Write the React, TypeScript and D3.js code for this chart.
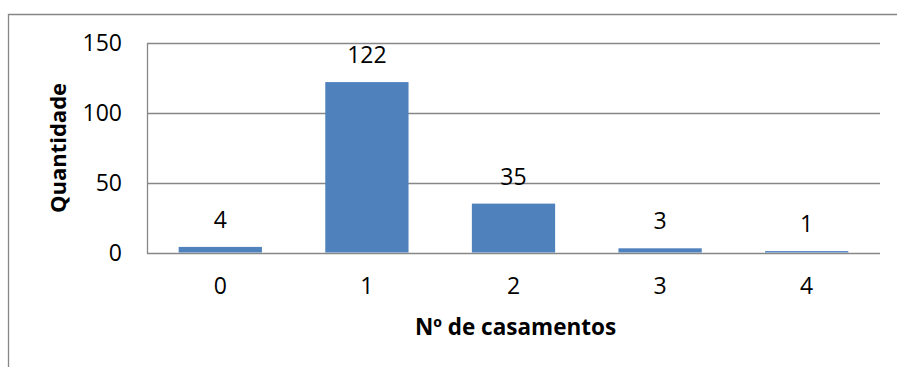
import React from "react";
import * as d3 from "d3";

// Number of marriages per person and how many people fall in each group
const categories = ["0", "1", "2", "3", "4"];
const counts = [4, 122, 35, 3, 1];
const yTicks = [0, 50, 100, 150];
const yTitle = "Quantidade";
const xTitle = "Nº de casamentos";

const W = 897;
const H = 367;
const plot = { left: 147, right: 880, top: 43, bottom: 252.5 };
const FONT = "'Open Sans', 'Noto Sans', sans-serif";
const BAR = "#4F81BD";
const GRID = "#878787";

export default function App() {
  const x = d3
    .scaleBand<string>()
    .domain(categories)
    .range([plot.left, plot.right])
    .paddingInner(0.432)
    .paddingOuter(0.216);
  const y = d3.scaleLinear().domain([0, 150]).range([plot.bottom, plot.top]);

  return (
    <svg
      width={W}
      height={H}
      style={{ position: "absolute", left: 0, top: 0, background: "#fff" }}
      fontFamily={FONT}
    >
      {/* outer chart frame (left and top edges visible) */}
      <path d={`M8.5,${H} V14.5 H${W}`} fill="none" stroke={GRID} strokeWidth={1.3} />

      {/* horizontal gridlines */}
      {yTicks.map((t) => (
        <line
          key={t}
          x1={plot.left}
          x2={plot.right}
          y1={Math.round(y(t)) + 0.5}
          y2={Math.round(y(t)) + 0.5}
          stroke={GRID}
          strokeWidth={1.3}
        />
      ))}
      {/* value axis line */}
      <line
        x1={plot.left + 0.5}
        x2={plot.left + 0.5}
        y1={y(150)}
        y2={Math.round(y(0)) + 1}
        stroke={GRID}
        strokeWidth={1.3}
      />

      {/* bars */}
      {counts.map((v, i) => (
        <rect
          key={categories[i]}
          x={x(categories[i])}
          y={y(v)}
          width={x.bandwidth()}
          height={y(0) - y(v)}
          fill={BAR}
        />
      ))}

      {/* value labels */}
      {counts.map((v, i) => (
        <text
          key={"l" + i}
          x={(x(categories[i]) as number) + x.bandwidth() / 2}
          y={y(v) - 19}
          textAnchor="middle"
          fontSize={23}
          fill="#000"
        >
          {v}
        </text>
      ))}

      {/* y tick labels */}
      {yTicks.map((t) => (
        <text
          key={"y" + t}
          x={122}
          y={y(t)}
          dy="0.35em"
          textAnchor="end"
          fontSize={23}
          fill="#000"
        >
          {t}
        </text>
      ))}

      {/* x tick labels */}
      {categories.map((c) => (
        <text
          key={"x" + c}
          x={(x(c) as number) + x.bandwidth() / 2}
          y={286}
          dy="0.35em"
          textAnchor="middle"
          fontSize={23}
          fill="#000"
        >
          {c}
        </text>
      ))}

      {/* axis titles */}
      <text
        x={(plot.left + plot.right) / 2 + 2}
        y={327}
        dy="0.35em"
        textAnchor="middle"
        fontSize={22.5}
        fontWeight="bold"
        fill="#000"
      >
        {xTitle}
      </text>
      <text
        transform={`translate(58, 148) rotate(-90)`}
        dy="0.35em"
        textAnchor="middle"
        fontSize={22}
        fontWeight="bold"
        fill="#000"
      >
        {yTitle}
      </text>
    </svg>
  );
}
